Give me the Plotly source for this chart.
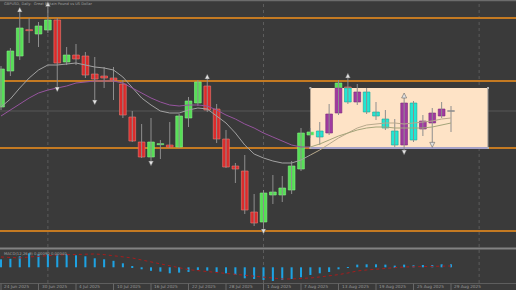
import plotly.graph_objects as go

# ---------------- data ----------------
tick_idx = [0, 4, 8, 12, 16, 20, 24, 28, 32, 36, 40, 44, 48]
tick_labels = ["24 Jun 2025", "30 Jun 2025", "4 Jul 2025", "10 Jul 2025", "16 Jul 2025",
               "22 Jul 2025", "28 Jul 2025", "1 Aug 2025", "7 Aug 2025", "13 Aug 2025",
               "19 Aug 2025", "25 Aug 2025", "29 Aug 2025"]

opens = [1.3479, 1.3587, 1.3632, 1.3710, 1.3698, 1.3710, 1.3740, 1.3614, 1.3635, 1.3632,
         1.3578, 1.3572, 1.3566, 1.3548, 1.3449, 1.3374, 1.3329, 1.3366, 1.3365, 1.3359,
         1.3446, 1.3491, 1.3542, 1.3473, 1.3383, 1.3302, 1.3287, 1.3164, 1.3134, 1.3215,
         1.3215, 1.3230, 1.3293, 1.3395, 1.3407, 1.3401, 1.3461, 1.3539, 1.3494, 1.3524,
         1.3464, 1.3443, 1.3407, 1.3365, 1.3491, 1.3413, 1.3431, 1.3452, 1.3467]
highs = [1.3602, 1.3656, 1.3767, 1.3746, 1.3734, 1.3791, 1.3746, 1.3659, 1.3668, 1.3644,
         1.3629, 1.3599, 1.3599, 1.3560, 1.3467, 1.3428, 1.3446, 1.3380, 1.3434, 1.3458,
         1.3509, 1.3560, 1.3566, 1.3488, 1.3410, 1.3311, 1.3335, 1.3218, 1.3230, 1.3275,
         1.3272, 1.3317, 1.3416, 1.3416, 1.3434, 1.3488, 1.3560, 1.3575, 1.3548, 1.3536,
         1.3494, 1.3470, 1.3443, 1.3509, 1.3497, 1.3455, 1.3476, 1.3494, 1.3482]
lows = [1.3470, 1.3572, 1.3620, 1.3671, 1.3659, 1.3701, 1.3536, 1.3605, 1.3605, 1.3566,
        1.3494, 1.3536, 1.3500, 1.3446, 1.3374, 1.3326, 1.3311, 1.3323, 1.3356, 1.3356,
        1.3419, 1.3482, 1.3464, 1.3371, 1.3296, 1.3251, 1.3158, 1.3122, 1.3110, 1.3188,
        1.3194, 1.3218, 1.3287, 1.3386, 1.3365, 1.3395, 1.3455, 1.3488, 1.3485, 1.3458,
        1.3440, 1.3410, 1.3359, 1.3347, 1.3374, 1.3392, 1.3368, 1.3446, 1.3404]
closes = [1.3593, 1.3647, 1.3716, 1.3709, 1.3722, 1.3740, 1.3611, 1.3635, 1.3623, 1.3575,
          1.3563, 1.3566, 1.3560, 1.3455, 1.3377, 1.3329, 1.3374, 1.3369, 1.3359, 1.3452,
          1.3497, 1.3554, 1.3470, 1.3383, 1.3299, 1.3293, 1.3170, 1.3131, 1.3221, 1.3224,
          1.3236, 1.3302, 1.3401, 1.3404, 1.3389, 1.3458, 1.3551, 1.3494, 1.3524, 1.3464,
          1.3452, 1.3416, 1.3365, 1.3491, 1.3380, 1.3437, 1.3461, 1.3473, 1.3467]

ma_fast = [1.3479, 1.3503, 1.3536, 1.3566, 1.3590, 1.3605, 1.3605, 1.3608, 1.3611, 1.3605,
           1.3599, 1.3596, 1.3590, 1.3569, 1.3536, 1.3506, 1.3485, 1.3467, 1.3461, 1.3461,
           1.3470, 1.3476, 1.3473, 1.3452, 1.3431, 1.3401, 1.3365, 1.3338, 1.3326, 1.3317,
           1.3311, 1.3311, 1.3320, 1.3335, 1.3350, 1.3368, 1.3386, 1.3401, 1.3416, 1.3425,
           1.3428, 1.3431, 1.3431, 1.3428, 1.3431, 1.3434, 1.3437, 1.3443, 1.3446]
ma_slow = [1.3452, 1.3470, 1.3488, 1.3506, 1.3521, 1.3530, 1.3536, 1.3542, 1.3551, 1.3554,
           1.3557, 1.3557, 1.3557, 1.3551, 1.3536, 1.3521, 1.3506, 1.3494, 1.3485, 1.3482,
           1.3485, 1.3485, 1.3482, 1.3470, 1.3455, 1.3443, 1.3428, 1.3416, 1.3401, 1.3389,
           1.3377, 1.3365, 1.3359, 1.3359, 1.3368, 1.3380, 1.3392, 1.3401, 1.3410, 1.3416,
           1.3419, 1.3419, 1.3416, 1.3416, 1.3416, 1.3416, 1.3419, 1.3425, 1.3431]

macd_hist = [0.0024, 0.00255, 0.0033, 0.0042, 0.0039, 0.0039, 0.0039, 0.0039, 0.0036, 0.0033,
             0.0027, 0.0024, 0.00195, 0.0012, 0.0003, -0.0006, -0.00105, -0.0013, -0.0018, -0.0016,
             -0.0014, -0.0008, -0.0010, -0.0014, -0.0018, -0.0023, -0.0033, -0.0035, -0.0038, -0.0041,
             -0.0038, -0.0035, -0.0030, -0.0023, -0.0018, -0.0014, -0.0006, 0.00006, 0.0008, 0.0009,
             0.0009, 0.0008, 0.0005, 0.0008, 0.0006, 0.0007, 0.0007, 0.0009, 0.0009]
macd_signal = [0.0031, 0.0029, 0.0028, 0.0031, 0.0034, 0.0035, 0.0037, 0.0038, 0.0040, 0.0040,
               0.0040, 0.0038, 0.0035, 0.0032, 0.0028, 0.0022, 0.0016, 0.0010, 0.0004, -0.0002,
               -0.0007, -0.0010, -0.0013, -0.0016, -0.0019, -0.0022, -0.0025, -0.0028, -0.0031, -0.0034,
               -0.0035, -0.0035, -0.0034, -0.0032, -0.0029, -0.0026, -0.0022, -0.0017, -0.0011, -0.0008,
               -0.0005, -0.0002, -0.0001, 0.0001, 0.0002, 0.0002, 0.0004, 0.0004, 0.0004]

levels = [1.3746, 1.3557, 1.3356, 1.3107]
grid_price = [1.3467]
month_idx = [5, 28, 51]

frac_up_idx = [2, 5, 22, 37, 43]
frac_up_price = [1.3779, 1.37955, 1.3578, 1.3581, 1.3521]
frac_dn_idx = [6, 10, 16, 28, 43, 46]
frac_dn_price = [1.3524, 1.3485, 1.3302, 1.3098, 1.3335, 1.3358]

box_x0, box_x1 = 33.0, 51.95
box_lo, box_hi = 1.3356, 1.3536

title_text = "GBPUSD, Daily:  Great Britain Pound vs US Dollar"
macd_text = "MACD(12,26,9) 0.00090 0.00040"

# ---------------- geometry helpers ----------------
W, H = 516, 290
def py(px):
    return 1 - px / H

n = len(opens)
idx = list(range(n))

# ---------------- build traces ----------------
fig = go.Figure()

# wicks
wx, wy = [], []
for i in idx:
    wx += [i, i, None]
    wy += [lows[i], highs[i], None]
fig.add_trace(go.Scatter(x=wx, y=wy, mode="lines", line=dict(color="#8e8e8e", width=1),
                         hoverinfo="skip", showlegend=False))

# bodies (split at the rectangle, where colours invert)
MINH = 0.0003
groups = {k: dict(x=[], base=[], h=[]) for k in ["up", "dn", "flat", "bup", "bdn", "bflat"]}
for i in idx:
    o, c = opens[i], closes[i]
    lo, hi = min(o, c), max(o, c)
    if hi - lo < MINH:
        mid = (hi + lo) / 2
        lo, hi = mid - MINH / 2, mid + MINH / 2
    kind = "up" if c > o else ("dn" if c < o else "flat")
    segs = []
    if i > box_x0:
        if hi > box_hi:
            segs.append((max(lo, box_hi), hi, kind))
        if lo < box_lo:
            segs.append((lo, min(hi, box_lo), kind))
        a, b = max(lo, box_lo), min(hi, box_hi)
        if b > a:
            segs.append((a, b, "b" + kind))
    else:
        segs.append((lo, hi, kind))
    for a, b, k in segs:
        groups[k]["x"].append(i)
        groups[k]["base"].append(a)
        groups[k]["h"].append(b - a)

styles = {
    "up": ("#56df56", "#86f286"),
    "dn": ("#dc2b2b", "#f07a72"),
    "flat": ("#a8a8a8", "#a8a8a8"),
    "bup": ("#a03aa0", "#7c2c7c"),
    "bdn": ("#22e6d2", "#14aa9c"),
    "bflat": ("#909090", "#909090"),
}
for k, g in groups.items():
    if not g["x"]:
        continue
    fill, edge = styles[k]
    fig.add_trace(go.Bar(x=g["x"], y=g["h"], base=g["base"], width=0.72,
                         marker=dict(color=fill, line=dict(color=edge, width=0.6)),
                         hoverinfo="skip", showlegend=False))

# moving averages (colour changes inside the rectangle)
cut = int(box_x0)
fig.add_trace(go.Scatter(x=idx[:cut + 1], y=ma_fast[:cut + 1], mode="lines",
                         line=dict(color="#a2a2a2", width=1), showlegend=False, hoverinfo="skip"))
fig.add_trace(go.Scatter(x=idx[cut:], y=ma_fast[cut:], mode="lines",
                         line=dict(color="#b8a98c", width=1), showlegend=False, hoverinfo="skip"))
fig.add_trace(go.Scatter(x=idx[:cut + 1], y=ma_slow[:cut + 1], mode="lines",
                         line=dict(color="#96549e", width=1), showlegend=False, hoverinfo="skip"))
fig.add_trace(go.Scatter(x=idx[cut:], y=ma_slow[cut:], mode="lines",
                         line=dict(color="#a4a47a", width=1), showlegend=False, hoverinfo="skip"))

# fractal arrows
fig.add_trace(go.Scatter(x=frac_up_idx, y=frac_up_price, mode="markers",
                         marker=dict(symbol="arrow-up", size=5, color="#e2e2e2",
                                     line=dict(color="#505050", width=0.5)),
                         showlegend=False, hoverinfo="skip"))
fig.add_trace(go.Scatter(x=frac_dn_idx, y=frac_dn_price, mode="markers",
                         marker=dict(symbol="arrow-down", size=5, color="#e2e2e2",
                                     line=dict(color="#505050", width=0.5)),
                         showlegend=False, hoverinfo="skip"))

# rectangle handles
fig.add_trace(go.Scatter(x=[box_x0, box_x1, box_x0, box_x1], y=[box_hi, box_hi, box_lo, box_lo],
                         mode="markers", marker=dict(symbol="square", size=2, color="#b4b4b4"),
                         showlegend=False, hoverinfo="skip"))

# MACD panel
fig.add_trace(go.Bar(x=idx, y=macd_hist, width=0.22, marker=dict(color="#1ea2e2", line=dict(width=0)),
                     xaxis="x2", yaxis="y2", showlegend=False, hoverinfo="skip"))
fig.add_trace(go.Scatter(x=idx, y=macd_signal, mode="lines",
                         line=dict(color="#a81c1c", width=1, dash="dot"),
                         xaxis="x2", yaxis="y2", showlegend=False, hoverinfo="skip"))

# ---------------- shapes ----------------
shapes = []
# month separators (dotted grid)
for m in month_idx:
    shapes.append(dict(type="line", xref="x", yref="paper", x0=m, x1=m, y0=py(283), y1=1,
                       line=dict(color="#5c5c5c", width=1, dash="dot"), layer="below"))
for g in grid_price:
    shapes.append(dict(type="line", xref="paper", yref="y", x0=0, x1=1, y0=g, y1=g,
                       line=dict(color="#565656", width=1), layer="below"))
# horizontal levels
for lv in levels:
    shapes.append(dict(type="line", xref="paper", yref="y", x0=0, x1=1, y0=lv, y1=lv,
                       line=dict(color="#c47a22", width=2), layer="below"))
# rectangle
shapes.append(dict(type="rect", xref="x", yref="y", x0=box_x0, x1=box_x1, y0=box_lo, y1=box_hi,
                   fillcolor="#fee3c6", line=dict(width=0), layer="below"))
shapes.append(dict(type="line", xref="x", yref="y", x0=box_x0, x1=box_x1, y0=box_lo, y1=box_lo,
                   line=dict(color="#a6a2c8", width=2), layer="below"))
shapes.append(dict(type="line", xref="x", yref="y", x0=box_x1, x1=box_x1, y0=box_lo, y1=box_hi,
                   line=dict(color="#8c8c8c", width=1), layer="below"))
# frame lines
shapes.append(dict(type="rect", xref="paper", yref="paper", x0=0, x1=1, y0=py(1.2), y1=1,
                   fillcolor="#6c6c6c", line=dict(width=0)))
shapes.append(dict(type="rect", xref="paper", yref="paper", x0=0, x1=1, y0=py(249.6), y1=py(247.6),
                   fillcolor="#828282", line=dict(width=0)))
shapes.append(dict(type="line", xref="paper", yref="paper", x0=0, x1=1, y0=py(283.5), y1=py(283.5),
                   line=dict(color="#5e5e5e", width=1)))
for t in tick_idx:
    shapes.append(dict(type="line", xref="x", yref="paper", x0=t, x1=t, y0=0, y1=py(283.5),
                       line=dict(color="#686868", width=1)))

# ---------------- annotations ----------------
ann = []
ann.append(dict(text=title_text, xref="paper", yref="paper", x=2 / W, y=py(4.5),
                xanchor="left", yanchor="middle", showarrow=False,
                font=dict(family="DejaVu Sans", size=3.6, color="#a0a0a0")))
ann.append(dict(text=macd_text, xref="paper", yref="paper", x=2 / W, y=py(253.5),
                xanchor="left", yanchor="middle", showarrow=False,
                font=dict(family="DejaVu Sans", size=3.8, color="#a0a0a0")))
for t, lab in zip(tick_idx, tick_labels):
    ann.append(dict(text=lab, xref="x", yref="paper", x=t, xshift=1, y=py(286.8),
                    xanchor="left", yanchor="middle", showarrow=False,
                    font=dict(family="DejaVu Sans", size=4.2, color="#9c9c9c")))

x_lo = -1 / 9.375
x_hi = x_lo + W / 9.375

fig.update_layout(
    width=W, height=H,
    margin=dict(l=0, r=0, t=0, b=0),
    paper_bgcolor="#3a3a3a", plot_bgcolor="#3a3a3a",
    barmode="overlay",
    showlegend=False,
    shapes=shapes,
    annotations=ann,
    xaxis=dict(range=[x_lo, x_hi], visible=False, anchor="y", domain=[0, 1]),
    xaxis2=dict(range=[x_lo, x_hi], visible=False, anchor="y2", domain=[0, 1], matches="x"),
    yaxis=dict(range=[1.38 - 0.0003 * 247, 1.38], domain=[py(247), 1], visible=False),
    yaxis2=dict(range=[(267.3 - 283) * 0.0003, (267.3 - 250) * 0.0003],
                domain=[py(283), py(250)], visible=False),
)

fig.write_html("out.html", config={"displayModeBar": False})
